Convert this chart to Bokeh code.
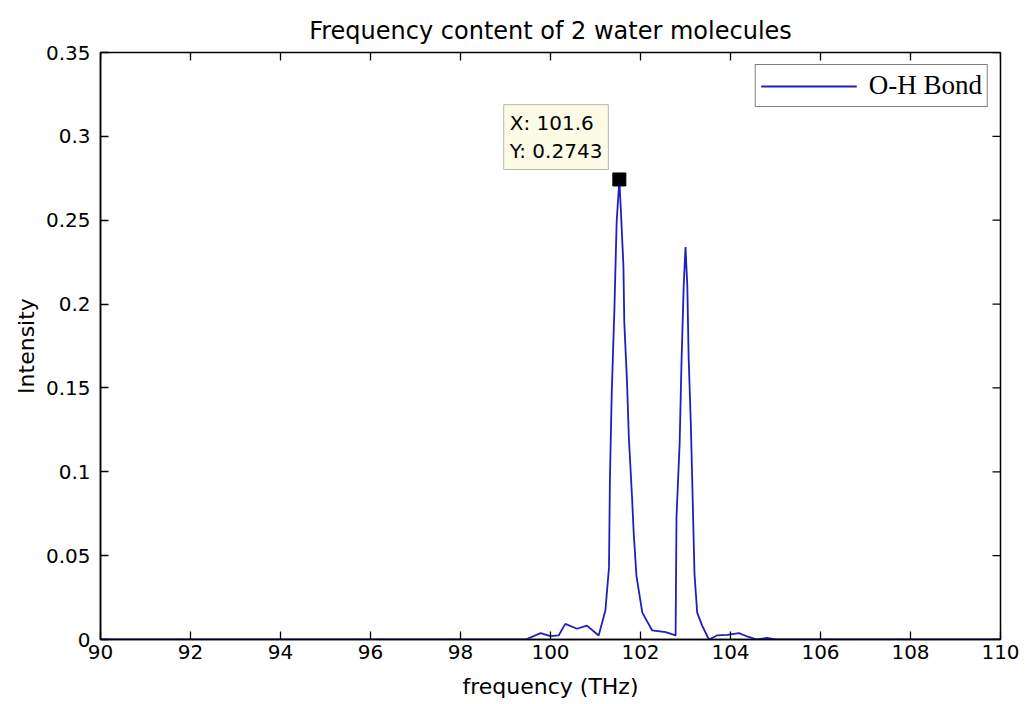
import math
from bokeh.plotting import figure
from bokeh.models import Legend, LegendItem, Label, FixedTicker, Range1d
from bokeh.embed import file_html
from bokeh.resources import INLINE

# ---- data ----
freq = [90.0, 99.45, 99.78, 100.0, 100.18, 100.33, 100.59, 100.81, 101.07, 101.22,
        101.30, 101.32, 101.36, 101.42, 101.47, 101.53, 101.56, 101.62, 101.64, 101.70,
        101.74, 101.81, 101.85, 101.91, 102.04, 102.26, 102.56, 102.78, 102.80, 102.87,
        102.91, 102.96, 103.00, 103.04, 103.07, 103.12, 103.16, 103.20, 103.26, 103.37,
        103.52, 103.70, 103.93, 104.19, 104.37, 104.59, 104.81, 105.0, 110.0]
intensity = [0.0, 0.0, 0.0038, 0.0020, 0.0024, 0.0093, 0.0064, 0.0083, 0.0024, 0.0173,
             0.043, 0.095, 0.146, 0.197, 0.249, 0.2743, 0.258, 0.223, 0.189, 0.154,
             0.121, 0.086, 0.063, 0.038, 0.016, 0.0054, 0.0044, 0.0024, 0.073, 0.117,
             0.164, 0.211, 0.234, 0.211, 0.168, 0.127, 0.083, 0.039, 0.016, 0.0083,
             0.0, 0.0024, 0.0028, 0.0038, 0.0018, 0.0, 0.001, 0.0, 0.0]

tip_x = [101.53]
tip_y = [0.2743]
tip_text = "X: 101.6\nY: 0.2743"

x_ticks = [90, 92, 94, 96, 98, 100, 102, 104, 106, 108, 110]
y_ticks = [0, 0.05, 0.1, 0.15, 0.2, 0.25, 0.3, 0.35]
y_tick_labels = ["0", "0.05", "0.1", "0.15", "0.2", "0.25", "0.3", "0.35"]

series_name = "O-H Bond"
title = "Frequency content of 2 water molecules"
x_label = "frequency (THz)"
y_label = "Intensity"

X_MIN, X_MAX = x_ticks[0], x_ticks[-1]
Y_MIN, Y_MAX = y_ticks[0], y_ticks[-1]

FONT = "DejaVu Sans"

p = figure(width=1026, height=704, output_backend="svg", toolbar_location=None,
           x_range=Range1d(X_MIN, X_MAX), y_range=Range1d(Y_MIN, Y_MAX),
           min_border_left=100, min_border_right=26, min_border_top=52, min_border_bottom=65,
           title=title)
p.title.align = "center"
p.title.text_font = FONT
p.title.text_font_size = "24px"
p.title.text_font_style = "normal"
p.title.text_color = "black"
p.title.standoff = 16

p.grid.visible = False
p.outline_line_color = "black"
p.outline_line_width = 1.5
p.background_fill_color = "white"
p.border_fill_color = "white"

line = p.line(freq, intensity, line_color="#1f1fbf", line_width=1.8)
p.scatter(tip_x, tip_y, marker="square", size=13, fill_color="black", line_color="black")

for ax in (p.xaxis[0], p.yaxis[0]):
    ax.major_tick_in = 8
    ax.major_tick_out = 0
    ax.minor_tick_line_color = None
    ax.axis_line_color = "black"
    ax.axis_line_width = 1.5
    ax.major_tick_line_color = "black"
    ax.major_tick_line_width = 1.3
    ax.major_label_text_font = FONT
    ax.major_label_text_font_size = "20px"
    ax.major_label_text_color = "black"
    ax.axis_label_text_font = FONT
    ax.axis_label_text_font_size = "22px"
    ax.axis_label_text_font_style = "normal"
    ax.axis_label_text_color = "black"

p.xaxis[0].ticker = FixedTicker(ticks=x_ticks)
p.yaxis[0].ticker = FixedTicker(ticks=y_ticks)
p.yaxis[0].major_label_overrides = {t: s for t, s in zip(y_ticks, y_tick_labels)}
p.xaxis[0].axis_label = x_label
p.yaxis[0].axis_label = y_label
p.xaxis[0].major_label_standoff = 5
p.yaxis[0].major_label_standoff = 10
p.xaxis[0].axis_label_standoff = 12
p.yaxis[0].axis_label_standoff = 4

# inward ticks on the top and right edges of the box (no labels)
p.ray(x=x_ticks, y=[Y_MAX] * len(x_ticks), length=8, length_units="screen",
      angle=-math.pi / 2, line_color="black", line_width=1.3)
p.ray(x=[X_MAX] * len(y_ticks), y=y_ticks, length=8, length_units="screen",
      angle=math.pi, line_color="black", line_width=1.3)

legend = Legend(items=[LegendItem(label=series_name, renderers=[line])],
                location="top_right", margin=12, padding=5, glyph_width=96,
                label_standoff=12, spacing=0)
legend.label_text_font = "Liberation Serif"
legend.label_text_font_size = "27px"
legend.label_text_color = "black"
legend.border_line_color = "black"
legend.border_line_width = 1.2
legend.background_fill_color = "white"
legend.background_fill_alpha = 1.0
p.add_layout(legend)

tip = Label(x=tip_x[0], y=tip_y[0], text=tip_text, x_offset=-11, y_offset=10,
            anchor="bottom_right", text_align="left",
            text_font=FONT, text_font_size="20px", text_color="black",
            padding=6, background_fill_color="#fbfbe6", background_fill_alpha=1.0,
            border_line_color="#b8b8a8", border_line_width=1, text_line_height=1.2)
p.add_layout(tip)

open("out.html", "w").write(file_html(p, INLINE))
